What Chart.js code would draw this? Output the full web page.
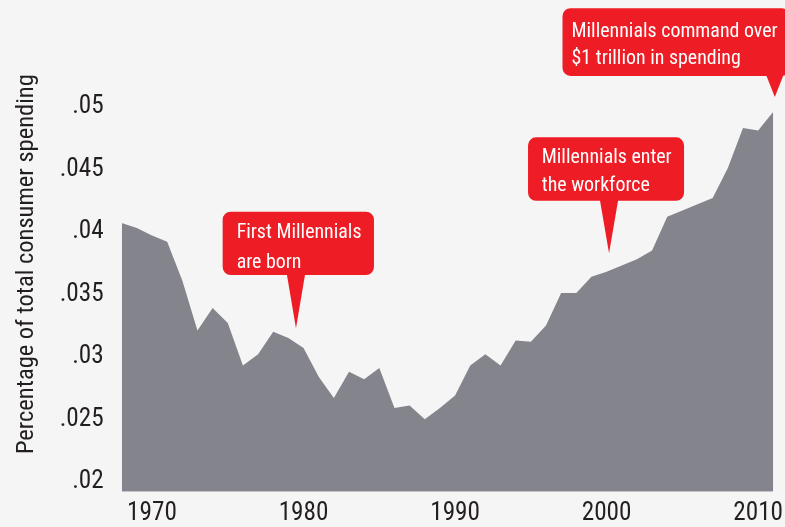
<!DOCTYPE html>
<html>
<head>
<meta charset="utf-8">
<script src="https://cdn.jsdelivr.net/npm/chart.js@4/dist/chart.umd.min.js"></script>
<style>
html,body{margin:0;padding:0;background:#f4f5f4;overflow:hidden}
#wrap{width:785px;height:527px;position:relative;background:#f4f5f4}
canvas{display:block}
</style>
</head>
<body>
<div id="wrap"><canvas id="c" width="785" height="527"></canvas></div>
<script>
// ---- data ----
const years = [1968,1969,1970,1971,1972,1973,1974,1975,1976,1977,1978,1979,1980,1981,1982,1983,1984,1985,1986,1987,1988,1989,1990,1991,1992,1993,1994,1995,1996,1997,1998,1999,2000,2001,2002,2003,2004,2005,2006,2007,2008,2009,2010,2011];
const shareOfSpending = [0.0407,0.0403,0.0397,0.0392,0.0361,0.0321,0.0339,0.0327,0.0293,0.0302,0.0320,0.0315,0.0307,0.0284,0.0267,0.0288,0.0282,0.0291,0.0259,0.0261,0.0250,0.0259,0.0269,0.0293,0.0302,0.0293,0.0313,0.0312,0.0325,0.0351,0.0351,0.0364,0.0368,0.0373,0.0378,0.0385,0.0412,0.0417,0.0422,0.0427,0.0451,0.0483,0.0481,0.0496];
const yTickValues = [0.02,0.025,0.03,0.035,0.04,0.045,0.05];
const xTickValues = [1970,1980,1990,2000,2010];
const yAxisTitle = 'Percentage of total consumer spending';
const calloutTexts = [['First Millennials','are born'],['Millennials enter','the workforce'],['Millennials command over','$1 trillion in spending']];
const calloutYears = [1979.5, 2000.16, 2011.1];
const calloutValues = [0.03227, 0.03827, 0.05078];

// ---- callout geometry (pixel offsets from pointer tip) ----
const calloutBoxes = [
  {l:-73.3, r:78,  t:-116.6, b:-53.3, base:9,   textX:14,  lines:[-90,-60.6]},
  {l:-81,   r:75,  t:-116,   b:-52.6, base:9,   textX:13.7,lines:[-90,-62.3]},
  {l:-212.3,r:15,  t:-88.7,  b:-21,   base:8.3, textX:9,   lines:[-60.3,-33]}
];

// ---- font selection (condensed face if available) ----
const mctx = document.createElement('canvas').getContext('2d');
function mw(font, text){ mctx.font = font; return mctx.measureText(text).width; }
const probe = 'Millennials command over 1970 .045';
function hasFamily(f){
  return mw('100px '+f+', monospace', probe) !== mw('100px monospace', probe) &&
         mw('100px '+f+', serif', probe) !== mw('100px serif', probe);
}
function hasCondensed(f){
  return hasFamily(f) && mw('condensed 100px '+f, probe) < 0.93*mw('100px '+f, probe);
}
const candidates = [
  {family:'"Liberation Sans Narrow"', weight:'normal', ok:()=>hasFamily('"Liberation Sans Narrow"')},
  {family:'"Roboto Condensed"', weight:'normal', ok:()=>hasFamily('"Roboto Condensed"')},
  {family:'"DejaVu Sans Condensed"', weight:'normal', ok:()=>hasFamily('"DejaVu Sans Condensed"')},
  {family:'"Noto Sans"', weight:'condensed', ok:()=>hasCondensed('"Noto Sans"')},
  {family:'Roboto', weight:'condensed', ok:()=>hasCondensed('Roboto')},
  {family:'"Open Sans"', weight:'condensed', ok:()=>hasCondensed('"Open Sans"')},
  {family:'"DejaVu Sans"', weight:'condensed', ok:()=>hasCondensed('"DejaVu Sans"')},
  {family:'"Liberation Sans"', weight:'normal', ok:()=>true}
];
const F = candidates.find(c=>c.ok());
function fstr(size){ return (F.weight!=='normal' ? F.weight+' ' : '') + size + 'px ' + F.family; }
function fit(text, target, max){ const per = mw(fstr(100), text)/100; return Math.min(max, target/per); }
const tickSize = Math.min(fit('.045', 44, 27), fit('2000', 50, 27));
const titleSize = fit(yAxisTitle, 380, 27);
const noteSize = Math.min(fit('Millennials command over', 210, 22), fit('First Millennials', 125, 22));
const ink = '#231f20';
function chartFont(size){ return {family:F.family, weight:F.weight, size:size, lineHeight:1.2}; }

const calloutPlugin = {
  id:'callouts',
  afterDraw(chart){
    const xs = chart.scales.x, ys = chart.scales.y, ctx = chart.ctx;
    calloutTexts.forEach((lines,i)=>{
      const tx = xs.getPixelForValue(calloutYears[i]);
      const ty = ys.getPixelForValue(calloutValues[i]);
      const b = calloutBoxes[i];
      const L=tx+b.l, R=tx+b.r, T=ty+b.t, B=ty+b.b, r=8;
      ctx.save();
      ctx.fillStyle = '#ee1c25';
      ctx.beginPath();
      ctx.moveTo(L+r,T);
      ctx.lineTo(R-r,T); ctx.arcTo(R,T,R,T+r,r);
      ctx.lineTo(R,B-r); ctx.arcTo(R,B,R-r,B,r);
      ctx.lineTo(tx+b.base,B); ctx.lineTo(tx,ty); ctx.lineTo(tx-b.base,B);
      ctx.lineTo(L+r,B); ctx.arcTo(L,B,L,B-r,r);
      ctx.lineTo(L,T+r); ctx.arcTo(L,T,L+r,T,r);
      ctx.closePath();
      ctx.fill();
      ctx.fillStyle = '#ffffff';
      ctx.font = fstr(noteSize);
      ctx.textAlign = 'left';
      ctx.textBaseline = 'alphabetic';
      lines.forEach((s,j)=>ctx.fillText(s, L+b.textX, ty+b.lines[j]));
      ctx.restore();
    });
  }
};

new Chart(document.getElementById('c'), {
  type:'line',
  data:{
    datasets:[{
      data: years.map((y,i)=>({x:y, y:shareOfSpending[i]})),
      fill:'start',
      backgroundColor:'#84848c',
      borderColor:'#84848c',
      borderWidth:0,
      pointRadius:0,
      tension:0
    }]
  },
  options:{
    responsive:false,
    devicePixelRatio:1,
    animation:false,
    layout:{padding:{top:36.7, right:11.7, left:0, bottom:0}},
    plugins:{legend:{display:false}, tooltip:{enabled:false}},
    scales:{
      x:{
        type:'linear', min:1968, max:2011,
        afterBuildTicks:(s)=>{ s.ticks = xTickValues.map(v=>({value:v})); },
        afterFit:(s)=>{ s.height = 35.3; s.paddingLeft = 0; s.paddingRight = 0; },
        ticks:{color:ink, font:chartFont(tickSize), padding:6.5, maxRotation:0, autoSkip:false, callback:(v)=>String(v)},
        grid:{display:false, drawTicks:false},
        border:{display:false}
      },
      y:{
        type:'linear', min:0.0192, max:0.0556,
        afterBuildTicks:(s)=>{ s.ticks = yTickValues.map(v=>({value:v})); },
        afterFit:(s)=>{ s.width = 121.7; s.paddingTop = 0; s.paddingBottom = 0; },
        ticks:{color:ink, font:chartFont(tickSize), padding:18, callback:(v)=>String(+v.toFixed(3)).replace(/^0/,'')},
        grid:{display:false, drawTicks:false},
        border:{display:false},
        title:{display:true, text:yAxisTitle, color:ink, font:chartFont(titleSize), padding:{top:Math.max(0, 27 - 0.6*titleSize), bottom:0}}
      }
    }
  },
  plugins:[calloutPlugin]
});
</script>
</body>
</html>
